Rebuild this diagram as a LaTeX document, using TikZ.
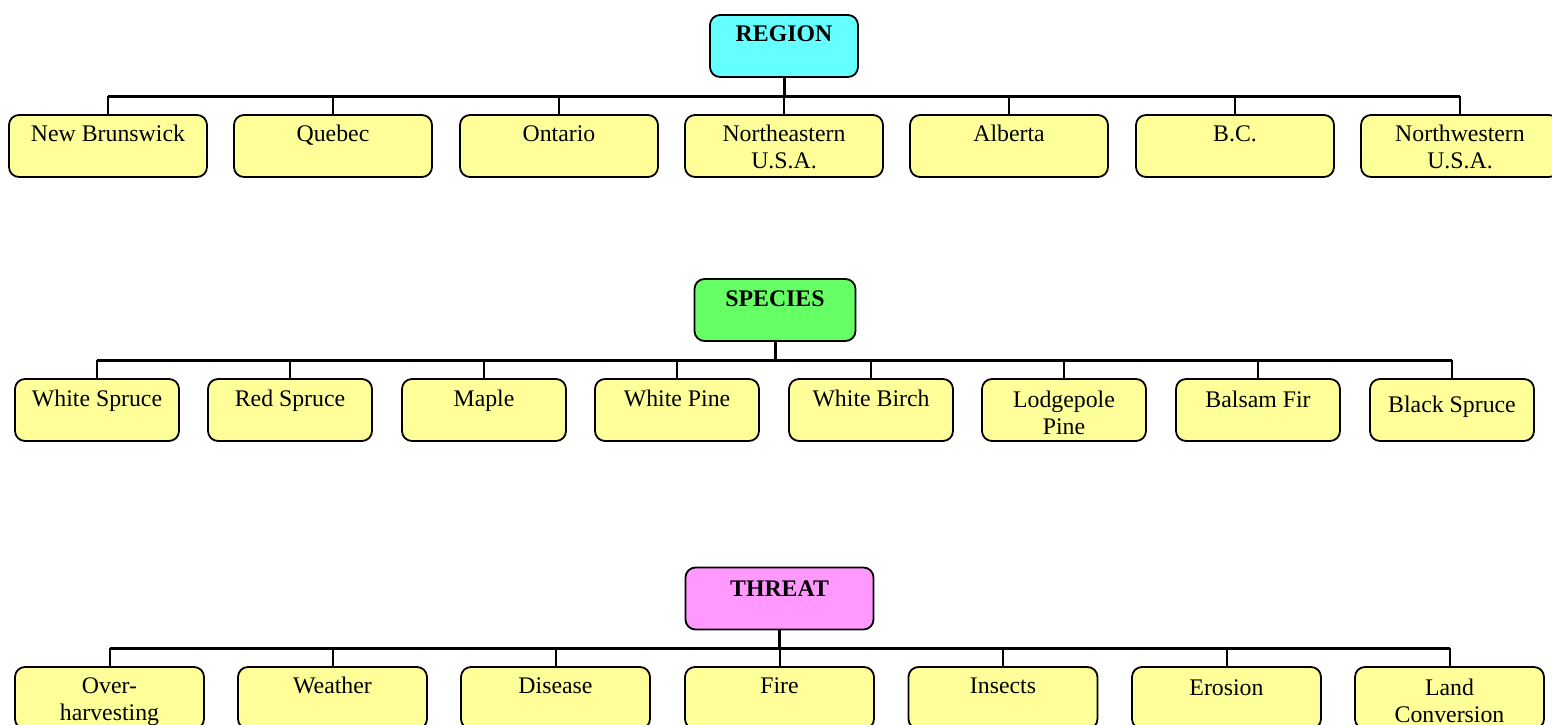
\documentclass[tikz,border=0pt]{standalone}
\usepackage{fontspec}
\setmainfont{Liberation Serif}
\definecolor{regc}{HTML}{66FFFF}
\definecolor{specc}{HTML}{66FF66}
\definecolor{threatc}{HTML}{FF99FF}
\definecolor{childc}{HTML}{FFFF99}
\newcommand\bt[3]{\parbox[c][62pt][t]{#1}{\centering\vspace*{#2}\strut #3\par}}
\begin{document}
\begin{tikzpicture}[x=1pt,y=-1pt,
  font=\fontsize{23.8}{27}\selectfont,
  box/.style={draw, line width=1.8pt, rounded corners=10pt, inner sep=0pt, fill=#1},
  bus/.style={line width=3pt},
  drop/.style={line width=2pt}]
\useasboundingbox (0,0) rectangle (1552,725);

% ---------- REGION ----------
\coordinate (rbus) at (784,96);
\draw[bus] (108,96) -- (1460,96);
\node[box=regc] (region) at (784,46) {\bt{148pt}{8.1pt}{\textbf{REGION}}};
\node[box=childc] (r1) at (108,146) {\bt{198pt}{7.1pt}{New Brunswick}};
\node[box=childc] (r2) at (333,146) {\bt{198pt}{7.1pt}{Quebec}};
\node[box=childc] (r3) at (559,146) {\bt{198pt}{7.1pt}{Ontario}};
\node[box=childc] (r4) at (784,146) {\bt{198pt}{7.1pt}{Northeastern\\U.S.A.}};
\node[box=childc] (r5) at (1009,146) {\bt{198pt}{7.1pt}{Alberta}};
\node[box=childc] (r6) at (1235,146) {\bt{198pt}{7.1pt}{B.C.}};
\node[box=childc] (r7) at (1460,146) {\bt{198pt}{7.1pt}{Northwestern\\U.S.A.}};
\draw[bus] (region.south) -- (rbus);
\foreach \n in {r1,r2,r3,r4,r5,r6,r7}
  \draw[drop] (\n.north) -- (\n.north |- rbus);

% ---------- SPECIES ----------
\coordinate (sbus) at (775,360);
\draw[bus] (97,360) -- (1452,360);
\node[box=specc] (species) at (775,310) {\bt{161pt}{8.8pt}{\textbf{SPECIES}}};
\node[box=childc] (s1) at (97,410) {\bt{164pt}{8.1pt}{White Spruce}};
\node[box=childc] (s2) at (290,410) {\bt{164pt}{8.1pt}{Red Spruce}};
\node[box=childc] (s3) at (484,410) {\bt{164pt}{8.1pt}{Maple}};
\node[box=childc] (s4) at (677,410) {\bt{164pt}{8.1pt}{White Pine}};
\node[box=childc] (s5) at (871,410) {\bt{164pt}{8.1pt}{White Birch}};
\node[box=childc] (s6) at (1064,410) {\bt{164pt}{9.8pt}{Lodgepole\\Pine}};
\node[box=childc] (s7) at (1258,410) {\bt{164pt}{9.1pt}{Balsam Fir}};
\node[box=childc] (s8) at (1452,410) {\bt{164pt}{14.1pt}{Black Spruce}};
\draw[bus] (species.south) -- (sbus);
\foreach \n in {s1,s2,s3,s4,s5,s6,s7,s8}
  \draw[drop] (\n.north) -- (\n.north |- sbus);

% ---------- THREAT ----------
\coordinate (tbus) at (779.5,648);
\draw[bus] (109.5,648) -- (1449.5,648);
\node[box=threatc] (threat) at (779.5,598.5) {\bt{188pt}{10.1pt}{\textbf{THREAT}}};
\node[box=childc] (t1) at (109.5,698) {\bt{189pt}{7.1pt}{Over-\\harvesting}};
\node[box=childc] (t2) at (332.5,698) {\bt{189pt}{7.1pt}{Weather}};
\node[box=childc] (t3) at (555.5,698) {\bt{189pt}{7.1pt}{Disease}};
\node[box=childc] (t4) at (779.5,698) {\bt{189pt}{7.1pt}{Fire}};
\node[box=childc] (t5) at (1003,698) {\bt{189pt}{7.1pt}{Insects}};
\node[box=childc] (t6) at (1226.5,698) {\bt{189pt}{9.1pt}{Erosion}};
\node[box=childc] (t7) at (1449.5,698) {\bt{189pt}{9.1pt}{Land\\Conversion}};
\draw[bus] (threat.south) -- (tbus);
\foreach \n in {t1,t2,t3,t4,t5,t6,t7}
  \draw[drop] (\n.north) -- (\n.north |- tbus);
\end{tikzpicture}
\end{document}
